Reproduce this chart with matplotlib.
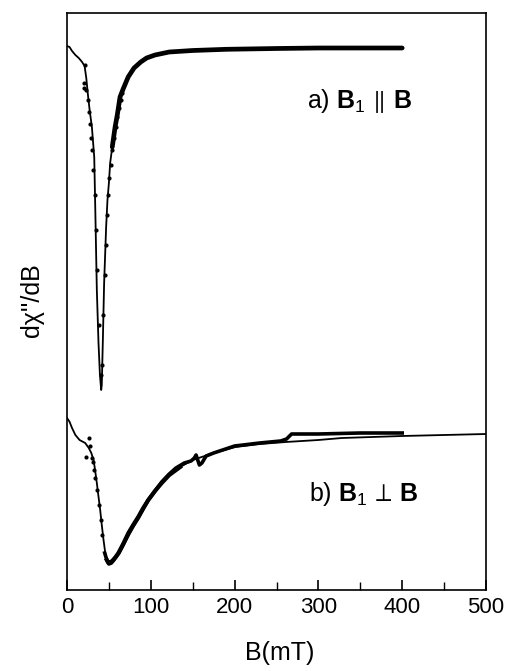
import matplotlib
matplotlib.use("Agg")
import matplotlib.pyplot as plt
import numpy as np

plt.rcParams['font.family'] = ['Liberation Sans', 'DejaVu Sans']
plt.rcParams['mathtext.fontset'] = 'custom'
plt.rcParams['mathtext.rm'] = 'Liberation Sans'
plt.rcParams['mathtext.bf'] = 'Liberation Sans:bold'
plt.rcParams['mathtext.it'] = 'Liberation Sans:italic'

# ---- data (signal in arbitrary units; larger = higher on the plot) ----
# (a) B1 || B : fitted curve
a_B = [0, 3, 6, 10, 14, 18, 21, 23, 25, 27, 29.7, 31, 32.5, 33.7, 35.6, 37.6, 39.3,
       40.8, 41.5, 42.8, 44.3, 45.5, 46.7, 48.3, 50, 51.5, 54, 57.4, 60, 63.3, 67,
       73, 80, 88, 95, 105, 122, 150, 190, 250, 300, 350, 400]
a_sig = [544, 543, 539, 535, 532, 528, 524, 512, 495, 480, 463, 449, 433, 383, 300,
         247, 215, 200, 205, 250, 307, 335, 363, 390, 407, 427, 443, 463, 475, 493,
         501, 513, 522, 528, 532, 535, 538, 539.5, 540.7, 541.5, 542, 542, 542]
# (a) measured points
a_dot_B = [21.7, 20.0, 20.5, 23.0, 25.0, 26.0, 27.5, 29.0, 30.0, 31.5, 33.0, 34.5,
           36.0, 38.0, 40.0, 42.0, 43.5, 45.0, 46.0, 47.5, 49.0, 50.5, 52.0, 54.0,
           56.0, 58.0, 60.0, 62.0, 64.0, 66.0]
a_dot_sig = [525, 507, 502, 500, 490, 478, 466, 452, 440, 420, 395, 360, 320, 265,
             215, 225, 275, 315, 345, 375, 395, 412, 425, 440, 452, 463, 473, 482,
             490, 497]

# (b) B1 perp B : fitted curve
b_B = [0, 3, 6, 10, 15, 21.7, 26, 29, 31.7, 33.5, 35.6, 37.5, 39.6, 41.5, 43.6,
       45.5, 47.5, 49.5, 52, 55, 58, 61.4, 67, 73.3, 79, 85, 91, 97, 105, 113, 122,
       135, 150, 175, 201, 230, 261, 300, 328, 400, 450, 500]
b_sig = [172, 168.3, 162, 155, 150, 147, 142, 137, 130, 120, 107, 94, 80, 65, 50,
         38, 30, 27, 27.5, 30, 33, 37, 46, 57, 65, 73, 82, 90, 99, 107, 115,
         123, 130, 137, 143, 146, 148, 150, 152, 154, 155, 156]
# (b) measured trace
b2_B = [45, 47.5, 50, 53, 56, 62, 67, 73, 79, 85, 91, 97, 105, 113, 122, 130, 140,
        148, 152, 154, 156, 158, 161, 166, 175, 200, 230, 255, 262, 268, 300, 350, 400]
b2_sig = [37, 30, 26, 27, 30, 37, 45, 55, 64, 72, 81, 90, 99, 108, 116, 122, 127,
          129, 132, 135, 130, 125, 127, 134, 137, 144, 147, 149, 151, 156, 156, 157, 157]
# (b) measured points
b_dot_B = [25.8, 22.6, 28.0, 29.5, 31.0, 32.5, 34.0, 36.0, 38.0, 40.0, 42.0]
b_dot_sig = [152, 133, 144, 132, 128, 120, 112, 100, 85, 70, 55]

xticks = [0, 100, 200, 300, 400, 500]
xticklabels = ['0', '100', '200', '300', '400', '500']

# ---- figure ----
fig = plt.figure(figsize=(5.11, 6.71), dpi=100)
ax = fig.add_axes([67/511, 1-590/671, (486-67)/511, (590-13)/671])

ax.plot(a_B, a_sig, color='black', lw=1.3)
aB = np.array(a_B); aS = np.array(a_sig)
m = aB >= 54
ax.plot(aB[m], aS[m], color='black', lw=3.4, solid_capstyle='round')
ax.plot(a_dot_B, a_dot_sig, 'o', color='black', ms=3.0, mec='none')

ax.plot(b_B, b_sig, color='black', lw=1.3)
ax.plot(b2_B, b2_sig, color='black', lw=2.6)
bB = np.array(b_B); bS = np.array(b_sig)
m2 = (bB >= 47) & (bB <= 135)
ax.plot(bB[m2], bS[m2], color='black', lw=3.0)
ax.plot(b_dot_B, b_dot_sig, 'o', color='black', ms=3.0, mec='none')

ax.set_xlim(0, 500)
ax.set_ylim(0, 577)
ax.set_xticks(xticks)
ax.set_xticklabels(xticklabels)
ax.set_xticks([50, 150, 250, 350, 450], minor=True)
ax.set_yticks([])
ax.tick_params(axis='x', which='major', direction='in', length=7, width=1.2,
               labelsize=16, pad=5)
ax.tick_params(axis='x', which='minor', direction='in', length=6, width=1.0)
for s in ax.spines.values():
    s.set_linewidth(1.2)

fig.text(307/511, 1-101/671, r'a) $\mathbf{B}_{1}\,\parallel\,\mathbf{B}$', fontsize=18,
         va='center', ha='left')
fig.text(309/511, 1-494/671, r'b) $\mathbf{B}_{1}\,\perp\,\mathbf{B}$', fontsize=18,
         va='center', ha='left')

fig.text(280/511, 1-653/671, 'B(mT)', fontsize=18, ha='center', va='center')
fig.text(32/511, 1-300/671, "dχ''/dB", fontsize=18, ha='center', va='center',
         rotation=90)

fig.savefig('out.png', dpi=100)
